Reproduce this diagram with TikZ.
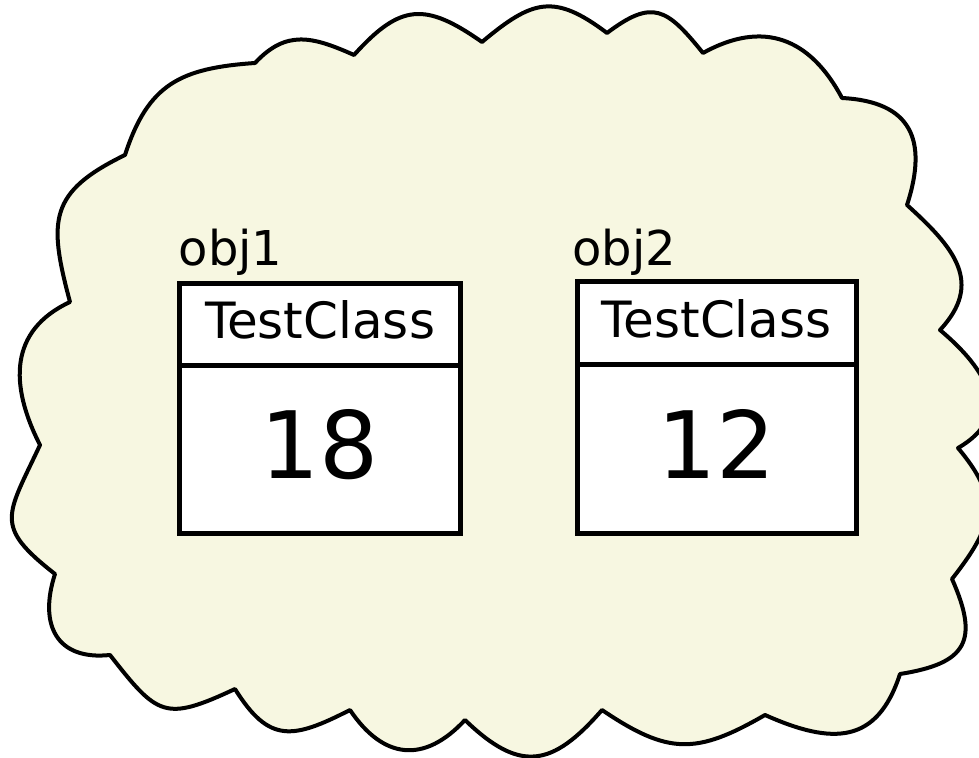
\documentclass[tikz,border=0pt]{standalone}
\usepackage{fontspec}
\setmainfont{DejaVu Sans}
\definecolor{cloudfill}{RGB}{247,247,225}
\begin{document}
\begin{tikzpicture}[x=1pt,y=1pt,
  cloudline/.style={draw=black, line width=4pt, fill=cloudfill, line join=round},
  umlbox/.style={draw=black, line width=5pt, fill=white, rectangle,
    outer sep=0pt, inner sep=0pt, anchor=north west},
  classname/.style={font=\fontsize{50}{50}\selectfont, text height=36pt, text depth=8pt},
  valuetext/.style={font=\fontsize{93}{93}\selectfont, text height=68pt, text depth=10pt},
  objlabel/.style={font=\fontsize{48}{48}\selectfont, inner sep=0pt, anchor=base west}]
\useasboundingbox (0,0) rectangle (979,757);
\fill[white] (0,0) rectangle (979,757);
\clip (0,0) rectangle (979,757);

% cusps of the cloud outline, clockwise from the upper left
\coordinate (c1) at (125,602);
\coordinate (c2) at (255,694);
\coordinate (c3) at (354,702);
\coordinate (c4) at (482,715);
\coordinate (c5) at (607,724);
\coordinate (c6) at (703,704);
\coordinate (c7) at (842,659);
\coordinate (c8) at (907,552);
\coordinate (c9) at (940,427);
\coordinate (c10) at (958,309);
\coordinate (c11) at (952,178);
\coordinate (c12) at (900,83);
\coordinate (c13) at (765,42);
\coordinate (c14) at (602,47);
\coordinate (c15) at (465,37);
\coordinate (c16) at (350,47);
\coordinate (c17) at (235,68);
\coordinate (c18) at (110,102);
\coordinate (c19) at (55,183);
\coordinate (c20) at (40,312);
\coordinate (c21) at (70,455);

\draw[cloudline] (c1)
  to[out=72,in=184,looseness=1.2] (c2)
  to[out=47,in=156,looseness=1.18] (c3)
  to[out=48,in=145,looseness=1.38] (c4)
  to[out=40,in=143,looseness=1.35] (c5)
  to[out=37,in=129,looseness=1.5] (c6)
  to[out=29,in=118,looseness=1.2] (c7)
  to[out=-3,in=72,looseness=1.41] (c8)
  to[out=-42,in=47,looseness=1.27] (c9)
  to[out=-40,in=30,looseness=1.37] (c10)
  to[out=-50,in=52,looseness=1.32] (c11)
  to[out=-66,in=9,looseness=1.6] (c12)
  to[out=252,in=336,looseness=1.34] (c13)
  to[out=210,in=326,looseness=1.25] (c14)
  to[out=229,in=316,looseness=1.42] (c15)
  to[out=227,in=304,looseness=1.33] (c16)
  to[out=207,in=302,looseness=1.41] (c17)
  to[out=205,in=308,looseness=1.53] (c18)
  to[out=186,in=252,looseness=1.4] (c19)
  to[out=142,in=245,looseness=1.55] (c20)
  to[out=117,in=205,looseness=1.18] (c21)
  to[out=105,in=206,looseness=1.38] (c1)
  -- cycle;

% first object
\node[objlabel] (lab1) at (178.5,491) {obj1};
\node[umlbox, classname, minimum width=281pt, minimum height=82pt] (head1) at (179.5,473) {TestClass};
\node[umlbox, valuetext, minimum width=281pt, minimum height=168pt] (val1) at (179.5,391) {18};

% second object
\node[objlabel] (lab2) at (572,491) {obj2};
\node[umlbox, classname, minimum width=279pt, minimum height=83.5pt] (head2) at (577,475.5) {TestClass};
\node[umlbox, valuetext, minimum width=279pt, minimum height=169pt] (val2) at (577,392) {12};
\end{tikzpicture}
\end{document}
